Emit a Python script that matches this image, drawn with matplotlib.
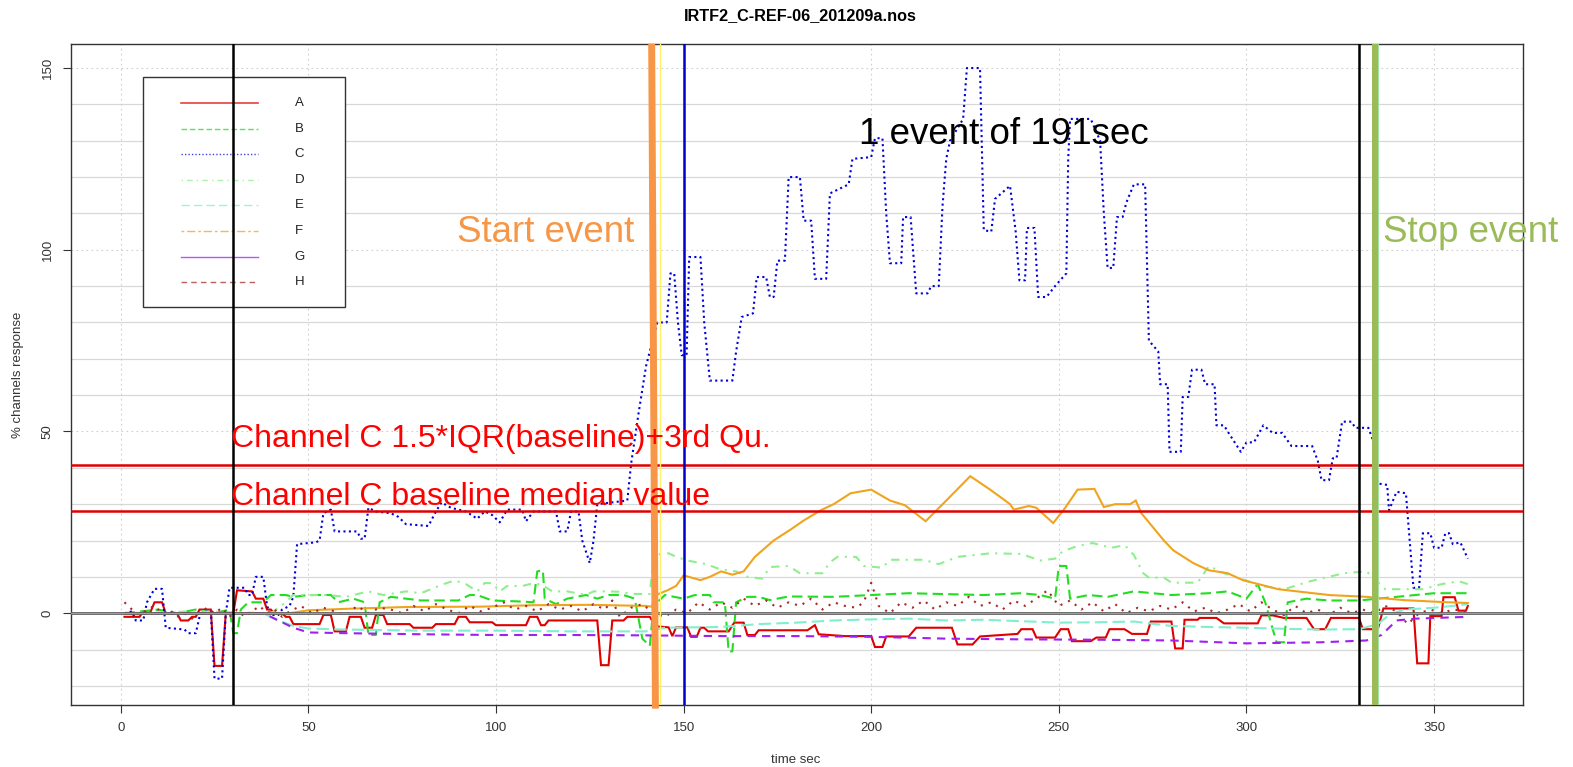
import numpy as np
import matplotlib
matplotlib.use("Agg")
import matplotlib.pyplot as plt
import matplotlib.patches as mpatches

plt.rcParams['font.family'] = ['Liberation Sans', 'DejaVu Sans']

W, H = 1573, 767

# ---- data: (time sec, % response) ----
a_t = [1, 5, 6, 8, 9, 11, 12, 15, 16, 18, 19, 20, 21, 24, 25, 27, 28, 30, 31, 35, 36, 38, 39, 40,
       41, 43, 44, 45, 46, 53, 54, 56, 57, 60, 61, 64, 65, 67, 68, 70, 71, 77, 78, 83, 84, 89,
       90, 92, 93, 99, 100, 108, 109, 111, 112, 113, 114, 127, 128, 130, 131, 134, 135, 141,
       142.5, 146, 147, 148, 151, 152, 153.5, 154.5, 155.5, 156.5, 162, 163.5, 166, 167, 169,
       170, 183, 185, 186, 193, 200, 201, 203, 204, 210, 212, 221.5, 223, 227, 229, 239, 240,
       243, 244, 249, 250.5, 252.5, 253.5, 258.5, 260, 262.5, 263.5, 267.5, 269.5, 273.5,
       274.5, 280, 281, 283, 283.5, 287, 287.5, 292, 294, 303, 304, 307, 310, 316, 318, 321,
       322.5, 330, 331, 335, 336.5, 344.5, 345.5, 348.5, 349, 352, 352.5, 355.5, 356.5, 358.5, 359]
a_v = [-1, -1, 0.5, 0.5, 3, 3, 0, 0, -2, -2, -1, -1, 1, 1, -14.5, -14.5, 0, 0, 6.3, 6, 4, 4, 1, 1,
       0, 0, -1, -1, -3, -3, -0.5, -0.5, -5, -5, -1, -1, -4, -4, -0.5, -0.5, -3, -3, -4, -4, -3, -3,
       -1, -1, -2.5, -2.5, -3.3, -3.3, -1, -1, -3.3, -3.3, -2, -2, -14.3, -14.3, -2, -2, -1, -1,
       -3.6, -3.9, -6.3, -3.9, -3.9, -6.5, -6.5, -4, -4, -5, -5, -2.6, -2.6, -6, -6,
       -4.7, -4.7, -3.3, -5.8, -6.3, -6.3, -9.3, -9.3, -6.4, -6.4, -4, -4, -8.6, -8.6, -6.4, -5.7, -4.4,
       -4.4, -6.7, -6.7, -4.4, -4.4, -7.7, -7.7, -6.7, -6.7, -4.4, -4.4, -5.7, -5.7,
       -2.3, -2.3, -9.7, -9.7, -1.8, -1.8, -1.3, -1.3, -2.8, -2.8, -0.6, -0.6, -1.3, -1.3, -4.4, -4.4,
       -1.3, -1.3, -4.4, -4.4, 1.3, 1.3, -13.8, -13.8, -0.8, -0.8, 4.4, 4.4, 0.7, 0.7, 2]

b_t = [1, 10, 15, 20, 25, 29, 30, 31, 32, 34, 38, 40, 44, 46, 50, 56, 58, 62, 65, 66, 68, 69, 72,
       76, 80, 90, 93, 95, 99, 107, 110, 111, 112.5, 113, 116, 119, 124, 127, 130, 134, 137, 139,
       141, 142, 145, 150, 153, 157, 158, 161, 162, 163, 164, 167, 170, 173, 178, 190, 200, 210,
       230, 240, 245, 249, 250, 252, 253, 258, 263, 270, 280, 290, 295, 300, 303, 305, 308, 310,
       311, 316, 322, 330, 335, 340, 345, 350, 359]
b_v = [0, 1, 0, 1, 0, 1, -5.5, -5.5, 1, 3, 3, 5, 5, 4.5, 5, 5, 3, 4, 3, -6, -6, 3, 4.5,
       4, 3.5, 3.5, 5, 5, 3.5, 3.2, 3, 11.5, 11.8, 4, 2.5, 4, 5, 4, 5, 5, 4, -7,
       -9, 2, 5, 4, 5, 5, 3, 3, -10.5, -10.5, 3, 4.5, 4.5, 3.6, 4.6, 4.5, 5, 5.5,
       5, 5.5, 5, 4, 13, 13, 4, 5, 4.5, 6, 5, 5.5, 6, 4, 8, 3, -8, -8,
       3, 4, 3.5, 3.5, 4, 4.5, 5, 5.5, 5.5]

c_t = [1, 3, 4, 6, 7, 9, 11, 12, 17, 18, 20, 21, 22, 24, 25, 27, 28, 29, 33, 34, 35, 36, 38, 39,
       40, 42, 43, 45, 46, 47, 52, 53, 54, 56, 57, 63, 64, 65, 66, 68, 72, 74, 76, 82, 84, 85.5,
       88, 92, 95, 97, 99, 101, 103, 107, 108, 110, 116, 117, 119, 120, 122, 123, 125, 126, 127,
       131, 135, 136, 138, 140, 142, 143, 145.5, 146.5, 147.5, 148.5, 149.5, 150.8, 151.5, 154.5,
       155.5, 157, 163, 164, 165.5, 168.5, 169.5, 172, 173, 174, 175, 177, 178, 181, 182, 184,
       185, 188, 189, 194, 195, 200, 201, 203, 204, 205, 208, 208.5, 210.5, 212, 215, 216, 218,
       219, 220, 221, 224.5, 225.5, 229, 230, 232, 233, 237, 238.5, 239.5, 241, 241.5, 243.5,
       244.5, 246.7, 249, 252, 252.5, 253, 258.5, 261, 262, 263, 264.5, 265.5, 267, 268, 270,
       273, 274, 276.5, 277, 279, 279.5, 282.5, 283, 284.5, 285.5, 288, 289, 291.5, 292, 294,
       295, 298.5, 300, 302, 304.5, 307, 309.5, 312, 317.5, 319, 320, 322, 323, 324, 325.5, 328,
       329, 332.5, 334, 335, 337.5, 338, 340, 342.5, 343.5, 344.5, 346, 347, 349, 350, 352, 353,
       354, 355, 357, 359]
c_v = [0, 0.5, -2, -2, 3, 6.7, 6.7, -4, -4.5, -5.5, -5.5, -1, 0.5, 0.5, -18, -18, 0, 7, 7, 5, 5, 10, 10, 2,
       -0.5, -0.5, 1, 2, 4.5, 19, 19.5, 20, 27.5, 28.5, 22.5, 22.5, 20.5, 20.5, 29, 28, 27.5, 26.5, 24.5, 24, 28, 30.5,
       29, 28, 26, 28, 27, 25, 28.5, 28.5, 25.3, 28, 28, 22.5, 22.5, 28, 28, 20, 13.8, 20, 30,
       30.5, 31, 41, 55, 68, 76, 80, 80, 93.5, 93.5, 80, 71, 71, 98, 98,
       80, 64, 64, 72, 81.5, 82.5, 92.5, 92.5, 87, 87, 97, 97, 120, 120, 108, 108,
       92, 92, 115.5, 118, 125, 125.5, 130.7, 130.7, 110, 96.3, 96.3, 109, 109, 88, 88, 90, 90,
       112, 125, 130, 136, 150, 150, 105.4, 105, 114, 117.6, 105, 91.6, 91.6, 106, 106,
       87, 87, 90, 93.5, 125, 136, 136, 130, 110, 95, 95, 109, 109, 113, 118,
       118, 75, 72, 63, 63, 44.4, 44.4, 59.5, 59.5, 67, 67, 63, 63, 51.7, 51.7,
       50, 44.4, 47, 47, 51.7, 49.6, 49.6, 46, 46, 42, 36.6, 36.6, 42.6, 42.6, 52.7, 52.7,
       51, 51, 46.8, 35.7, 35.3, 28.3, 33.4, 33, 20, 7, 7, 22, 22, 18, 18, 22,
       22, 19, 19.5, 15]

d_t = [1, 20, 40, 44, 46, 55, 60, 66, 70, 76, 80, 86, 89, 92, 95, 97, 99, 101, 103, 107, 109, 112,
       115, 119, 124, 126, 130, 133, 136, 141, 142, 146, 148, 151, 156, 160, 164, 167, 171, 173,
       178, 181, 187, 189, 191, 196, 198, 203, 205, 214, 218, 223, 232, 240, 245, 249, 251, 255,
       259, 264, 267.6, 270, 272.5, 274, 278, 280, 287, 290, 294, 299, 304, 310, 317, 326, 332,
       337, 347, 352, 356.6, 359]
d_v = [0, 0.5, 0, 3, 5, 5, 4.5, 6, 5, 6, 5.5, 8, 9, 8, 6, 8.3, 8.3, 6, 7.5, 7.5, 8, 8,
       6, 6, 5, 6, 6, 5.9, 5.3, 5.3, 16, 16.5, 15.5, 14.5, 13.5, 12, 11.5, 10, 9.5, 12.7,
       13, 11, 11, 14, 15.5, 15.5, 13, 12.5, 14.7, 14.7, 13.5, 15.5, 16.5, 16.3, 14.5, 15, 17, 18.5,
       19.3, 18, 18.7, 16, 11, 9.8, 9.8, 8.4, 8.4, 13, 11, 9.3, 7.5, 6.6, 8.8, 11, 11.5,
       6.6, 6.6, 8, 8.8, 8]

e_t = [1, 38, 42, 46, 50, 60, 80, 100, 120, 140, 145, 160, 170, 180, 190, 200, 210, 220, 230, 240,
       250, 260, 270, 280, 290, 300, 310, 320, 330, 335, 338, 342, 350, 355, 359]
e_v = [0, 0, -2, -3.5, -4.2, -4.5, -4.8, -4.8, -5, -5, -4, -3.8, -3, -2.6, -2, -1.7, -1.5, -2, -1.8, -2.2,
       -2.6, -2.5, -2.3, -3.5, -3.8, -4, -4.3, -4.5, -4.4, -3, -0.5, 1, 1.5, 2, 2.5]

f_t = [1, 45, 50, 60, 76, 96, 110, 125, 140, 141.5, 142.6, 145.7, 148, 150, 154.5, 157, 160, 163,
       166, 169, 174, 178.5, 182, 186.5, 190, 194.5, 200, 205, 209, 214.5, 220, 226.4, 231.7, 237,
       238, 242, 244, 248.5, 251.7, 255, 259.5, 262, 265, 269, 270.5, 272, 278, 280.5, 285.8, 290,
       295, 299, 308.5, 322, 332, 342, 351.6, 359]
f_v = [0, 0, 0.8, 1.2, 1.7, 1.8, 2.2, 2.3, 2.0, 1.8, 5, 6.3, 7.5, 10.4, 9.1, 10, 11.5, 10.6,
       11.5, 15.5, 20, 23, 25.5, 28.3, 30, 33, 34, 31, 29.7, 25.3, 31, 37.7, 34, 30,
       28.5, 29.5, 29, 24.8, 29, 34, 34.2, 29.2, 30, 30, 31, 27.5, 20, 17.3, 13.8, 11.8,
       11, 9.1, 6.6, 5, 4.5, 3.6, 3.1, 2.8]

g_t = [1, 38, 42, 46, 50, 60, 80, 100, 120, 140, 160, 180, 200, 220, 240, 260, 280, 300, 320, 332,
       336, 340, 345, 359]
g_v = [0, 0, -2, -4, -5.3, -5.5, -5.8, -6, -6, -6.1, -6.3, -6.3, -6.5, -7, -7.2, -7.3, -7.5, -8.3, -8,
       -7.5, -6, -2, -1.5, -1]

h_t = [1, 3, 5, 7, 9, 11, 13, 15, 17, 19, 21, 23, 25, 27, 29, 31, 33, 35, 37, 39, 41, 43, 45, 48,
       51, 54, 57, 60, 63, 66, 69, 72, 75, 78, 81, 84, 87, 90, 93, 96, 99, 102, 105, 108, 111, 114,
       117, 120, 123, 126, 129, 131, 133, 136, 139, 142, 145, 148, 151, 154, 157, 160, 163, 166,
       169, 172, 175, 178, 181, 184, 187, 190, 193, 196, 198, 200, 202, 205, 208, 211, 214, 217,
       220, 223, 226, 229, 232, 235, 238, 241, 244, 247, 250, 253, 256, 259, 262, 265, 268, 271,
       274, 277, 280, 283, 286, 289, 292, 295, 298, 301, 304, 307, 310, 313, 316, 319, 322, 325,
       328, 331, 334, 337, 340, 343, 346, 349, 352, 355, 359]
h_v = [3, 1, -0.5, 1, 2, 0, 1, -1, 0, -1.5, 0, 1.5, 0, 1.5, -1, 1, -1, 0.5, 2, 0, 1, -1, 0.5, 2,
       0, 1.5, 0.5, -0.5, 2, 0, 1.5, 1, 0, 2, 0.5, 2.5, 1, 0, 2, 0.5, 1.5, 3, 1, 2, 0.5, 2.5,
       1, 2, 0.5, 2.5, 1, 3.5, -1, 1.5, 2.5, 0, -1, 1, 0, 3, 1, 3, 1.5, 4,
       2, 3.5, 1.5, 3, 2, 4, 1, 3, 2, 1.5, 3, 8.4, 2, 0, 3, 1.5, 3.5, 1,
       3, 2, 4.5, 2, 3, 1, 3.5, 2, 4, 6.3, 2, 3.5, 1, 3, 0.5, 2.5, 0, 1.5,
       0.5, 2, 1, 3, 0.5, 1.5, 0, 1, 2.5, 0.5, 3, 1, -0.5, 2, 0, 1, -0.5, 1.5,
       0, 1, 0, 2, 0.5, -3, 0, 1, 0, 1, 0.5]

labels = ['A', 'B', 'C', 'D', 'E', 'F', 'G', 'H']
colors = ['#E00000', '#22DD22', '#0000DD', '#90EE90', '#7FEFD0', '#F0A41E', '#A020F0', '#A52A2A']

# reference lines (seconds / % response)
marker_lines = [30, 330]
baseline_end = 150
start_line, stop_line = 143.8, 335.1
start_overlay = (141.5, 142.5)
stop_overlay = 334.2
iqr_limit = 40.7
median_c = 28.1

xlim = (-13.25, 373.7)
ylim = (-25.26, 156.7)

fig = plt.figure(figsize=(W / 100, H / 100), dpi=100)
ax = fig.add_axes([71 / W, 1 - 705 / H, (1523 - 71) / W, (705 - 43.7) / H])
ax.set_xlim(*xlim)
ax.set_ylim(*ylim)

# grid: dotted at the ticks, light solid every 10
for v in range(-20, 151, 10):
    if v % 50 != 0:
        ax.axhline(v, color='#D8D8D8', lw=0.9, zorder=0.5)
for v in [50, 100, 150]:
    ax.axhline(v, color='#CFCFCF', lw=0.8, dashes=(1.5, 3), zorder=0.5)
for v in range(0, 351, 50):
    ax.axvline(v, color='#CFCFCF', lw=0.8, dashes=(1.5, 3), zorder=0.5)

series = [(a_t, a_v), (b_t, b_v), (c_t, c_v), (d_t, d_v),
          (e_t, e_v), (f_t, f_v), (g_t, g_v), (h_t, h_v)]
plot_dash = [None, (5, 2.5), (1, 1.6), (1, 3, 4, 3), (6, 2.5), None, (4, 3), (1, 3)]
for (t, v), col, ds in zip(series, colors, plot_dash):
    kw = dict(color=col, lw=1.5, zorder=2, solid_joinstyle='miter')
    if ds is not None:
        kw['dashes'] = ds
    ax.plot(t, v, **kw)

ax.axhline(0, color='#606060', lw=2.0, zorder=2.6)
ax.axhline(0, color='#B8B8B8', lw=0.5, zorder=2.7)
ax.axhline(iqr_limit, color='#E00000', lw=1.8, zorder=3)
ax.axhline(median_c, color='#E00000', lw=1.8, zorder=3)
for v in marker_lines:
    ax.axvline(v, color='black', lw=1.8, zorder=3)
ax.axvline(baseline_end, color='#0000CC', lw=1.8, zorder=3)
ax.axvline(start_line, color='#FFF066', lw=1.0, zorder=3)
ax.axvline(stop_line, color='#9BE09B', lw=1.3, zorder=3)

# hand-drawn event markers
ax.plot(start_overlay, [ylim[1], ylim[0] - 1], color='#F79646', lw=5,
        solid_capstyle='butt', zorder=4, clip_on=False)
ax.axvline(stop_overlay, color='#9BBB59', lw=4.3, zorder=4)

# legend drawn R-style
def fx(px):
    return px / W


def fy(py):
    return 1 - py / H


ax.add_patch(mpatches.Rectangle((fx(143.3), fy(307)), fx(345) - fx(143.3), fy(77.3) - fy(307),
                                transform=fig.transFigure, facecolor='white',
                                edgecolor='#333333', lw=1.0, zorder=1.5))
leg_dash = [None, (4, 2), (1, 1.5), (1, 3, 4, 3), (6, 3), (2, 2, 6, 2), None, (4, 3)]
for i, (lab, col, ds) in enumerate(zip(labels, colors, leg_dash)):
    yy = fy(103 + i * 25.6)
    kw = dict(color=col, lw=1.2 if i == 0 else 1.0, alpha=0.75, transform=fig.transFigure,
              zorder=1.6, clip_on=False)
    if ds is not None:
        kw['dashes'] = ds
    ax.plot([fx(181), fx(257.7)], [yy, yy], **kw)
    fig.text(fx(294.5), yy, lab, fontsize=9.5, va='center', ha='left', color='#222222')

# annotations
ax.text(196.8, 129.2, '1 event of 191sec', fontsize=26.5, color='black', va='baseline', zorder=5)
ax.text(89.6, 102.2, 'Start event', fontsize=26.5, color='#F79646', va='baseline', zorder=5)
ax.text(336.5, 102.2, 'Stop event', fontsize=26.5, color='#9BBB59', va='baseline', zorder=5)
ax.text(29.4, 45.8, 'Channel C 1.5*IQR(baseline)+3rd Qu.', fontsize=23, color='#FF0000',
        va='baseline', zorder=5)
ax.text(29.4, 29.7, 'Channel C baseline median value', fontsize=23, color='#FF0000',
        va='baseline', zorder=5)

# axes styling
ax.set_xticks(range(0, 351, 50))
ax.set_yticks([0, 50, 100, 150])
ax.tick_params(axis='both', direction='out', length=5.5, width=0.8, color='#333333',
               labelsize=9.5, labelcolor='#333333', pad=7)
for lab in ax.get_yticklabels():
    lab.set_rotation(90)
    lab.set_va('center')
for sp in ax.spines.values():
    sp.set_color('#333333')
    sp.set_linewidth(1.0)

fig.text(800 / W, fy(15.7), 'IRTF2_C-REF-06_201209a.nos', fontsize=11.7, fontweight='bold',
         ha='center', va='center')
fig.text(796 / W, fy(760), 'time sec', fontsize=9.5, ha='center', va='center', color='#333333')
fig.text(18.3 / W, fy(374.4), '% channels response', fontsize=9.5, rotation=90,
         ha='center', va='center', color='#333333')

fig.savefig('out.png', dpi=100)
